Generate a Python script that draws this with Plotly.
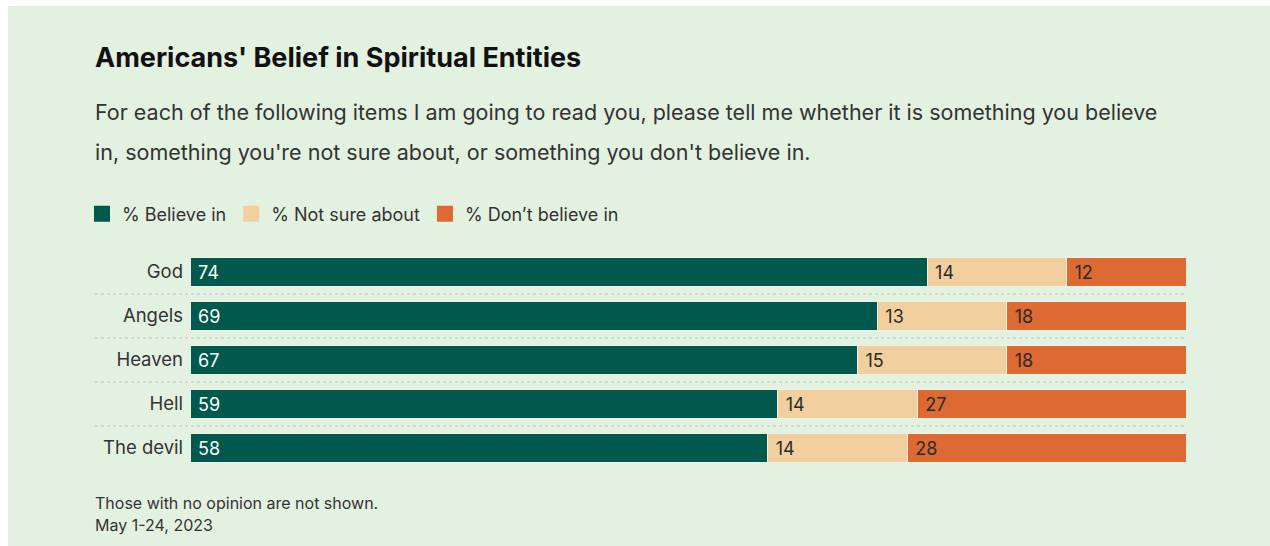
import plotly.graph_objects as go

categories = ["God", "Angels", "Heaven", "Hell", "The devil"]
believe = [74, 69, 67, 59, 58]
not_sure = [14, 13, 15, 14, 14]
dont_believe = [12, 18, 18, 27, 28]
series_names = ["% Believe in", "% Not sure about", "% Don\u2019t believe in"]
colors = ["#00594c", "#f2cf9e", "#dc6a32"]
text_colors = ["#ffffff", "#2b2b2b", "#2b2b2b"]

BG = "#e3f1e1"
FONT = "Inter, Roboto, sans-serif"

fig = go.Figure()
for name, vals, col, tcol in zip(series_names, [believe, not_sure, dont_believe], colors, text_colors):
    fig.add_trace(go.Bar(
        y=categories, x=vals, name=name, orientation="h", showlegend=False,
        marker=dict(color=col, line=dict(color="#eef3ea", width=1)),
        text=vals, texttemplate=" %{x}", textposition="inside",
        insidetextanchor="start",
        textfont=dict(color=tcol, size=18, family=FONT),
        hoverinfo="skip",
    ))
# legend entries with larger square swatches
for name, col in zip(series_names, colors):
    fig.add_trace(go.Scatter(
        x=[None], y=[None], mode="markers", name=name,
        marker=dict(symbol="square", size=16, color=col), showlegend=True,
    ))

# dotted separators between rows
shapes = []
for i in range(len(categories) - 1):
    shapes.append(dict(type="line", xref="paper", yref="y",
                       x0=-0.0954, x1=1.0, y0=i + 0.5, y1=i + 0.5,
                       line=dict(color="#cbd1c8", width=1.5, dash="dot"), layer="below"))
# white frame strips (top and left)
shapes.append(dict(type="rect", xref="paper", yref="paper", x0=-0.2, x1=1.1,
                   y0=2.109, y1=2.3, fillcolor="white", line=dict(width=0), layer="below"))
shapes.append(dict(type="rect", xref="paper", yref="paper", x0=-0.2, x1=-0.1827,
                   y0=-0.5, y1=2.3, fillcolor="white", line=dict(width=0), layer="below"))

X0 = -0.0954
annotations = [
    dict(text="<b>Americans' Belief in Spiritual Entities</b>", xref="paper", yref="paper",
         x=X0, xshift=-2, y=(470 - 58) / 220, xanchor="left", yanchor="middle", showarrow=False,
         font=dict(size=27, color="#111111", family=FONT)),
    dict(text="For each of the following items I am going to read you, please tell me whether it is something you believe",
         xref="paper", yref="paper", x=X0, xshift=-2, y=(470 - 112) / 220, xanchor="left", yanchor="middle",
         showarrow=False, font=dict(size=21.5, color="#333333", family=FONT)),
    dict(text="in, something you're not sure about, or something you don't believe in.",
         xref="paper", yref="paper", x=X0, xshift=-2, y=(470 - 152) / 220, xanchor="left", yanchor="middle",
         showarrow=False, font=dict(size=21.5, color="#333333", family=FONT)),
    dict(text="Those with no opinion are not shown.", xref="paper", yref="paper",
         x=X0, xshift=-2, y=(470 - 503) / 220, xanchor="left", yanchor="middle", showarrow=False,
         font=dict(size=16, color="#333333", family=FONT)),
    dict(text="May 1-24, 2023", xref="paper", yref="paper",
         x=X0, xshift=-2, y=(470 - 525) / 220, xanchor="left", yanchor="middle", showarrow=False,
         font=dict(size=16, color="#333333", family=FONT)),
]

fig.update_layout(
    width=1270, height=546,
    barmode="stack", bargap=0.36,
    paper_bgcolor=BG, plot_bgcolor=BG,
    margin=dict(l=190, r=84, t=250, b=76),
    showlegend=True,
    legend=dict(orientation="h", x=(82 - 190) / 996, y=(470 - 214) / 220, xanchor="left", yanchor="middle",
                font=dict(size=18, color="#333333", family=FONT), bgcolor="rgba(0,0,0,0)",
                traceorder="normal", itemwidth=30),
    xaxis=dict(range=[0, 100], visible=False, fixedrange=True),
    yaxis=dict(categoryorder="array", categoryarray=categories, autorange="reversed",
               showgrid=False, zeroline=False, showline=False, ticks="",
               ticklabelstandoff=6,
               tickfont=dict(size=18.5, color="#333333", family=FONT)),
    shapes=shapes, annotations=annotations,
    uniformtext=dict(mode="show", minsize=18),
)

fig.write_html("out.html")
